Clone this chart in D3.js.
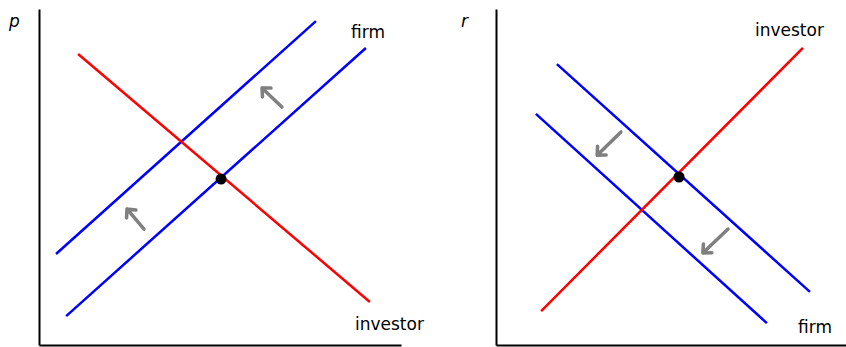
<!DOCTYPE html>
<html>
<head>
<meta charset="utf-8">
<script src="https://cdn.jsdelivr.net/npm/d3@7"></script>
<style>
  body { margin: 0; background: #fff; }
  svg { display: block; }
</style>
</head>
<body>
<div id="chart"></div>
<script>
// Panel data (both panels in 0-10 units)
const leftRed = [[1.08, 8.66], [9.14, 1.28]];
const leftBlueUpper = [[0.47, 2.71], [7.65, 9.64]];
const leftBlueLower = [[0.75, 0.86], [9.03, 8.84]];
const leftDot = [5.03, 4.94];
const leftArrows = [[[2.90, 3.45], [2.43, 4.05]], [[6.71, 7.08], [6.16, 7.65]]];

const rightRed = [[1.29, 1.01], [8.77, 8.84]];
const rightBlueUpper = [[1.74, 8.36], [8.97, 1.58]];
const rightBlueLower = [[1.14, 6.88], [7.74, 0.65]];
const rightDot = [5.23, 5.0];
const rightArrows = [[[3.57, 6.34], [2.89, 5.65]], [[6.63, 3.45], [5.91, 2.74]]];

const svg = d3.select('#chart')
    .append('svg')
    .attr('width', 846)
    .attr('height', 347);

function drawPanel(opts) {
    const x = d3.scaleLinear().domain([0, 10]).range([opts.x0, opts.x1]);
    const y = d3.scaleLinear().domain([0, 10]).range([345, 9]);
    const g = svg.append('g');

    // Axes without ticks
    g.append('g')
        .attr('transform', 'translate(0,345)')
        .call(d3.axisBottom(x).tickValues([]).tickSizeOuter(0))
        .select('.domain').attr('stroke', '#000').attr('stroke-width', 2);
    g.append('g')
        .attr('transform', `translate(${opts.x0},0)`)
        .call(d3.axisLeft(y).tickValues([]).tickSizeOuter(0))
        .select('.domain').attr('stroke', '#000').attr('stroke-width', 2);

    const line = d3.line().x(d => x(d[0])).y(d => y(d[1]));

    [[opts.blueUpper, '#0000ff'], [opts.blueLower, '#0000ff'], [opts.red, '#ff0000']].forEach(([pts, c]) => {
        g.append('path')
            .datum(pts)
            .attr('d', line)
            .attr('fill', 'none')
            .attr('stroke', c)
            .attr('stroke-width', 2.5);
    });

    // Shift arrows
    opts.arrows.forEach(a => {
        const x1 = x(a[0][0]), y1 = y(a[0][1]), x2 = x(a[1][0]), y2 = y(a[1][1]);
        const ang = Math.atan2(y2 - y1, x2 - x1);
        const hl = 9, spread = Math.PI / 4.2;
        g.append('path')
            .attr('d', `M${x1},${y1}L${x2},${y2}` +
                `M${x2 - hl * Math.cos(ang - spread)},${y2 - hl * Math.sin(ang - spread)}` +
                `L${x2},${y2}` +
                `L${x2 - hl * Math.cos(ang + spread)},${y2 - hl * Math.sin(ang + spread)}`)
            .attr('fill', 'none')
            .attr('stroke', '#808080')
            .attr('stroke-width', 3.5)
            .attr('stroke-linecap', 'round')
            .attr('stroke-linejoin', 'round');
    });

    g.append('circle')
        .attr('cx', x(opts.dot[0]))
        .attr('cy', y(opts.dot[1]))
        .attr('r', 5.5)
        .attr('fill', '#000');

    g.append('text')
        .attr('x', opts.axisLabel.x)
        .attr('y', 27)
        .style('font-family', 'DejaVu Sans, sans-serif')
        .style('font-style', 'italic')
        .style('font-size', '17px')
        .style('fill', '#000')
        .text(opts.axisLabel.text);

    opts.labels.forEach(l => {
        g.append('text')
            .attr('x', l.x)
            .attr('y', l.y)
            .style('font-family', 'DejaVu Sans, sans-serif')
            .style('font-size', '17px')
            .style('fill', '#000')
            .text(l.text);
    });
}

drawPanel({
    x0: 39, x1: 401,
    red: leftRed, blueUpper: leftBlueUpper, blueLower: leftBlueLower,
    dot: leftDot, arrows: leftArrows,
    axisLabel: { text: 'p', x: 9 },
    labels: [{ text: 'firm', x: 351, y: 38 }, { text: 'investor', x: 355, y: 330 }]
});

drawPanel({
    x0: 496, x1: 846,
    red: rightRed, blueUpper: rightBlueUpper, blueLower: rightBlueLower,
    dot: rightDot, arrows: rightArrows,
    axisLabel: { text: 'r', x: 461 },
    labels: [{ text: 'investor', x: 755, y: 36 }, { text: 'firm', x: 798, y: 333 }]
});
</script>
</body>
</html>
